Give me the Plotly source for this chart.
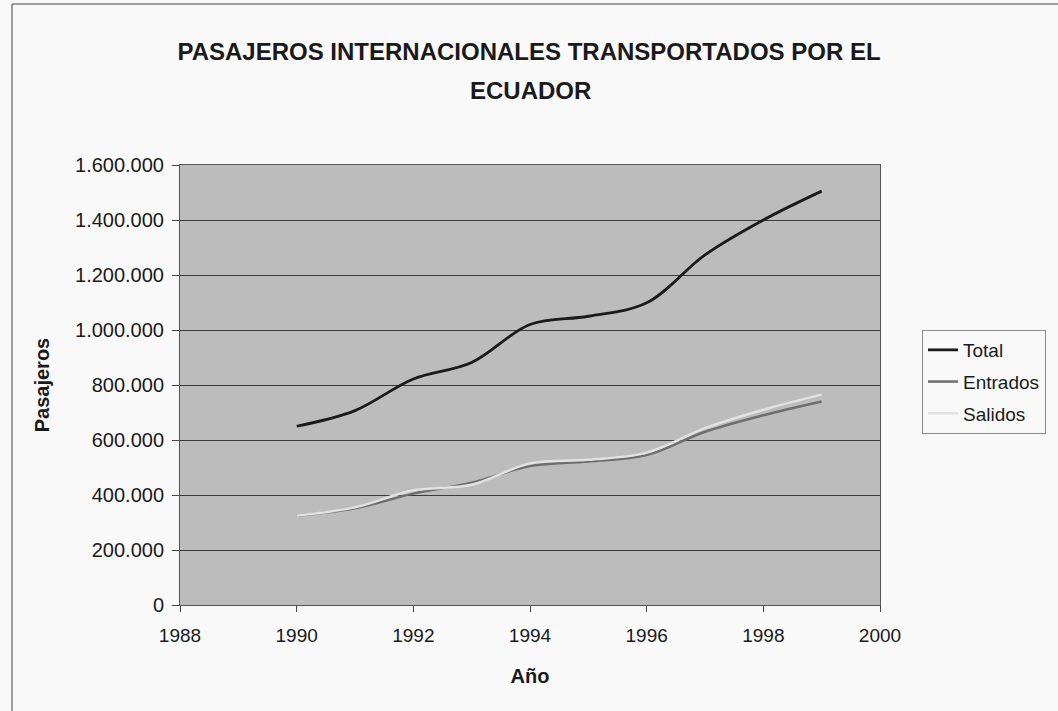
import plotly.graph_objects as go

years = [1990, 1991, 1992, 1993, 1994, 1995, 1996, 1997, 1998, 1999]
total = [650000, 707000, 822000, 882000, 1020000, 1050000, 1099000, 1273000, 1400000, 1505000]
entrados = [325000, 352000, 405000, 445000, 505000, 522000, 545000, 630000, 690000, 740000]
salidos = [325000, 355000, 417000, 437000, 515000, 528000, 554000, 643000, 710000, 765000]

x_ticks = [1988, 1990, 1992, 1994, 1996, 1998, 2000]
y_ticks = [0, 200000, 400000, 600000, 800000, 1000000, 1200000, 1400000, 1600000]
y_tick_labels = ["0", "200.000", "400.000", "600.000", "800.000", "1.000.000",
                 "1.200.000", "1.400.000", "1.600.000"]

title_line1 = "PASAJEROS INTERNACIONALES TRANSPORTADOS POR EL"
title_line2 = "ECUADOR"

FONT = "Liberation Sans, Arial, sans-serif"
TXT = "#1a1a1a"

fig = go.Figure()
fig.add_trace(go.Scatter(x=years, y=total, name="Total", mode="lines", legendgroup="a",
                         line=dict(color="#1a1a1a", width=2.8, shape="spline")))
fig.add_trace(go.Scatter(x=years, y=entrados, name="Entrados", mode="lines", legendgroup="b",
                         line=dict(color="#6e6e6e", width=2.5, shape="spline")))
fig.add_trace(go.Scatter(x=years, y=salidos, name="Salidos", mode="lines", legendgroup="c",
                         line=dict(color="#e2e2e2", width=2.5, shape="spline")))

fig.update_layout(
    width=1058, height=711,
    margin=dict(l=180, r=178, t=165, b=106),
    paper_bgcolor="#f9f9f9",
    plot_bgcolor="#bcbcbc",
    font=dict(family=FONT, color=TXT, size=19),
    title=dict(text="<b>" + title_line1 + "</b>", x=0.5, xanchor="center",
               y=1 - 52 / 711, yanchor="middle",
               font=dict(family=FONT, size=24, color=TXT)),
    showlegend=True,
    legend=dict(x=(922 - 180) / 700, y=(605 - 330) / 440, xanchor="left", yanchor="top",
                bgcolor="#f9f9f9", bordercolor="#8a8a8a", borderwidth=1,
                font=dict(family=FONT, size=19, color=TXT),
                tracegroupgap=4, traceorder="grouped"),
    xaxis=dict(range=[1988, 2000], tickvals=x_ticks, ticks="outside", ticklen=6,
               ticklabelstandoff=7,
               tickcolor="#444", showline=True, linecolor="#555", linewidth=1, mirror=True,
               showgrid=False, zeroline=False,
               tickfont=dict(family=FONT, size=19, color=TXT),
               title=dict(text="<b>Año</b>", standoff=24,
                          font=dict(family=FONT, size=20, color=TXT))),
    yaxis=dict(range=[0, 1600000], tickvals=y_ticks, ticktext=y_tick_labels,
               ticks="outside", ticklen=7, tickcolor="#444", ticklabelstandoff=4,
               showline=True, linecolor="#555", linewidth=1, mirror=True,
               showgrid=True, gridcolor="#3a3a3a", gridwidth=1, zeroline=False,
               tickfont=dict(family=FONT, size=20, color=TXT),
               title=dict(text="<b>Pasajeros</b>", standoff=20,
                          font=dict(family=FONT, size=20, color=TXT))),
)

fig.add_annotation(text="<b>" + title_line2 + "</b>", xref="paper", yref="paper",
                   x=0.5, y=(605 - 90) / 440, xanchor="center", yanchor="middle",
                   showarrow=False, font=dict(family=FONT, size=24, color=TXT))

# chart frame (left and top edges of the scanned chart border)
fig.add_shape(type="line", xref="paper", yref="paper",
              x0=(12 - 180) / 700, x1=(12 - 180) / 700,
              y0=(605 - 711) / 440, y1=(605 - 4) / 440,
              line=dict(color="#444", width=1))
fig.add_shape(type="line", xref="paper", yref="paper",
              x0=(12 - 180) / 700, x1=(1058 - 180) / 700,
              y0=(605 - 4) / 440, y1=(605 - 4) / 440,
              line=dict(color="#444", width=1))

fig.write_html("out.html", config={"displayModeBar": False},
               post_script="document.body.style.margin='0px';")
